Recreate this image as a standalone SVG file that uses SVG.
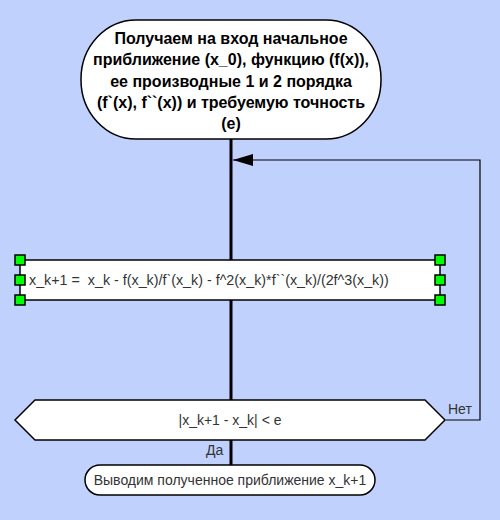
<svg xmlns="http://www.w3.org/2000/svg" width="500" height="520" viewBox="0 0 500 520">
<defs>
<style>
.shape{fill:#fff;stroke:#000;stroke-width:1.5}
.t{font-family:"Liberation Sans",Arial,sans-serif;font-size:14px;fill:#333;white-space:pre}
.tb{font-family:"Liberation Sans",Arial,sans-serif;font-size:16px;font-weight:bold;fill:#000;text-anchor:middle}
.h{fill:#00ff00;stroke:#000;stroke-width:1.5}
.main{stroke:#000;stroke-width:3;fill:none}
.thin{stroke:#000;stroke-width:1.2;fill:none}
</style>
<marker id="arr" markerWidth="20" markerHeight="12" refX="20" refY="6" orient="auto" markerUnits="userSpaceOnUse">
<path d="M0,0 L20,6 L0,12 Z" fill="#000"/>
</marker>
</defs>
<rect width="500" height="520" fill="#c1d1fe"/>
<g id="connectors">
<line class="main" x1="231" y1="139" x2="231" y2="465"/>
<polyline class="thin" points="446,420 480,420 480,160 233,160" marker-end="url(#arr)"/>
<text class="t" x="448" y="414">Нет</text>
<text class="t" x="206" y="455">Да</text>
</g>
<g id="start">
<rect class="shape" x="81" y="20" width="300" height="119" rx="55" ry="59"/>
<text class="tb" x="231" y="44">Получаем на вход начальное</text>
<text class="tb" x="231" y="65">приближение (x_0), функцию (f(x)),</text>
<text class="tb" x="231" y="87">ее производные 1 и 2 порядка</text>
<text class="tb" x="231" y="108">(f`(x), f``(x)) и требуемую точность</text>
<text class="tb" x="231" y="129">(e)</text>
</g>
<g id="process">
<rect class="shape" x="20" y="260" width="420" height="40"/>
<text class="t" x="29" y="285" style="font-size:14.3px" xml:space="preserve">x_k+1 =  x_k - f(x_k)/f`(x_k) - f^2(x_k)*f``(x_k)/(2f^3(x_k))</text>
<rect class="h" x="15" y="255" width="10" height="10"/>
<rect class="h" x="15" y="275" width="10" height="10"/>
<rect class="h" x="15" y="295" width="10" height="10"/>
<rect class="h" x="435" y="255" width="10" height="10"/>
<rect class="h" x="435" y="275" width="10" height="10"/>
<rect class="h" x="435" y="295" width="10" height="10"/>
</g>
<g id="decision">
<polygon class="shape" points="15,420 35,400 425,400 445,420 425,440 35,440"/>
<text class="t" x="230" y="425" text-anchor="middle">|x_k+1 - x_k| &lt; e</text>
</g>
<g id="end">
<rect class="shape" x="85" y="465" width="290" height="30" rx="15" ry="15"/>
<text class="t" x="230" y="485" text-anchor="middle">Выводим полученное приближение x_k+1</text>
</g>
</svg>
